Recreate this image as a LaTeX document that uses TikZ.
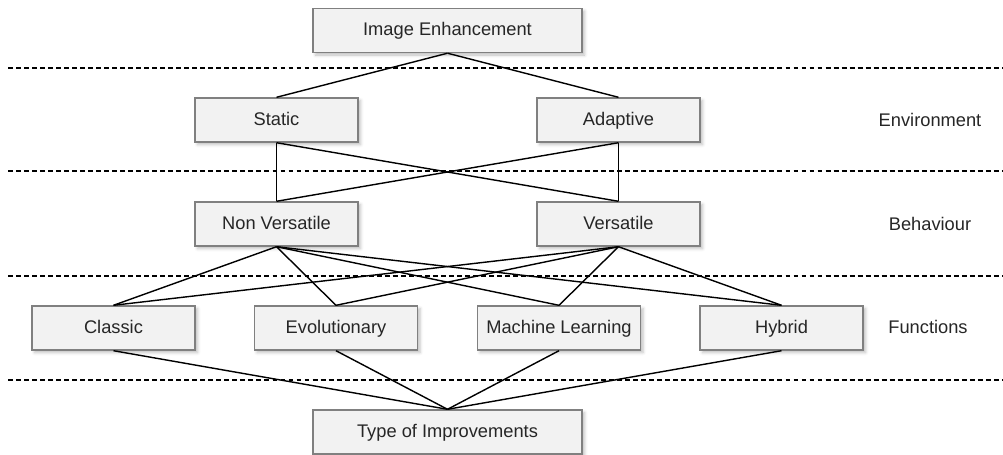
\documentclass[tikz,border=0pt]{standalone}
\usepackage{fontspec}
\setmainfont{Liberation Sans}
\usetikzlibrary{shadows.blur}

\tikzset{
  box/.style={draw=black!50, fill=black!5, text=black!85, minimum width=4.075cm,
    minimum height=1.1cm, inner sep=0pt, text height=1.5ex, text depth=0.1ex,
    font=\fontsize{13}{15}\selectfont,
    blur shadow={shadow xshift=1.8pt, shadow yshift=-1.8pt, shadow opacity=25}},
  widebox/.style={box, minimum width=6.725cm},
  level/.style={text=black!85, text height=1.5ex, text depth=0.1ex,
    font=\fontsize{13}{15}\selectfont},
  sep/.style={dash pattern=on 3.5pt off 2.2pt, line width=0.9pt}
}

\begin{document}
\begin{tikzpicture}[x=0.025cm, y=-0.025cm, line width=1pt]
  \useasboundingbox (0,0) rectangle (1003,454);

  % separators
  \foreach \y in {68,171,276,380}
    \draw[sep] (8,\y) -- (1003,\y);

  \node[widebox] (ie) at (447.5,30.5) {Image Enhancement};
  \node[box] (static) at (276.5,120) {Static};
  \node[box] (adaptive) at (618.5,120) {Adaptive};
  \node[box] (nonvers) at (276.5,224) {Non Versatile};
  \node[box] (vers) at (618.5,224) {Versatile};
  \node[box] (classic) at (113.5,328) {Classic};
  \node[box] (evol) at (336,328) {Evolutionary};
  \node[box] (ml) at (559,328) {Machine Learning};
  \node[box] (hybrid) at (781.5,328) {Hybrid};
  \node[widebox] (toi) at (447.5,432) {Type of Improvements};

  \node[level] (env) at (930,121) {Environment};
  \node[level] (beh) at (930,225) {Behaviour};
  \node[level] (fun) at (928,328) {Functions};

  \draw (ie.south) -- (static.north);
  \draw (ie.south) -- (adaptive.north);
  \foreach \a in {static,adaptive}
    \foreach \b in {nonvers,vers}
      \draw (\a.south) -- (\b.north);
  \foreach \b in {classic,evol,ml,hybrid} {
    \draw (nonvers.south) -- (\b.north);
    \draw (vers.south) -- (\b.north);
    \draw (\b.south) -- (toi.north);
  }
\end{tikzpicture}
\end{document}
